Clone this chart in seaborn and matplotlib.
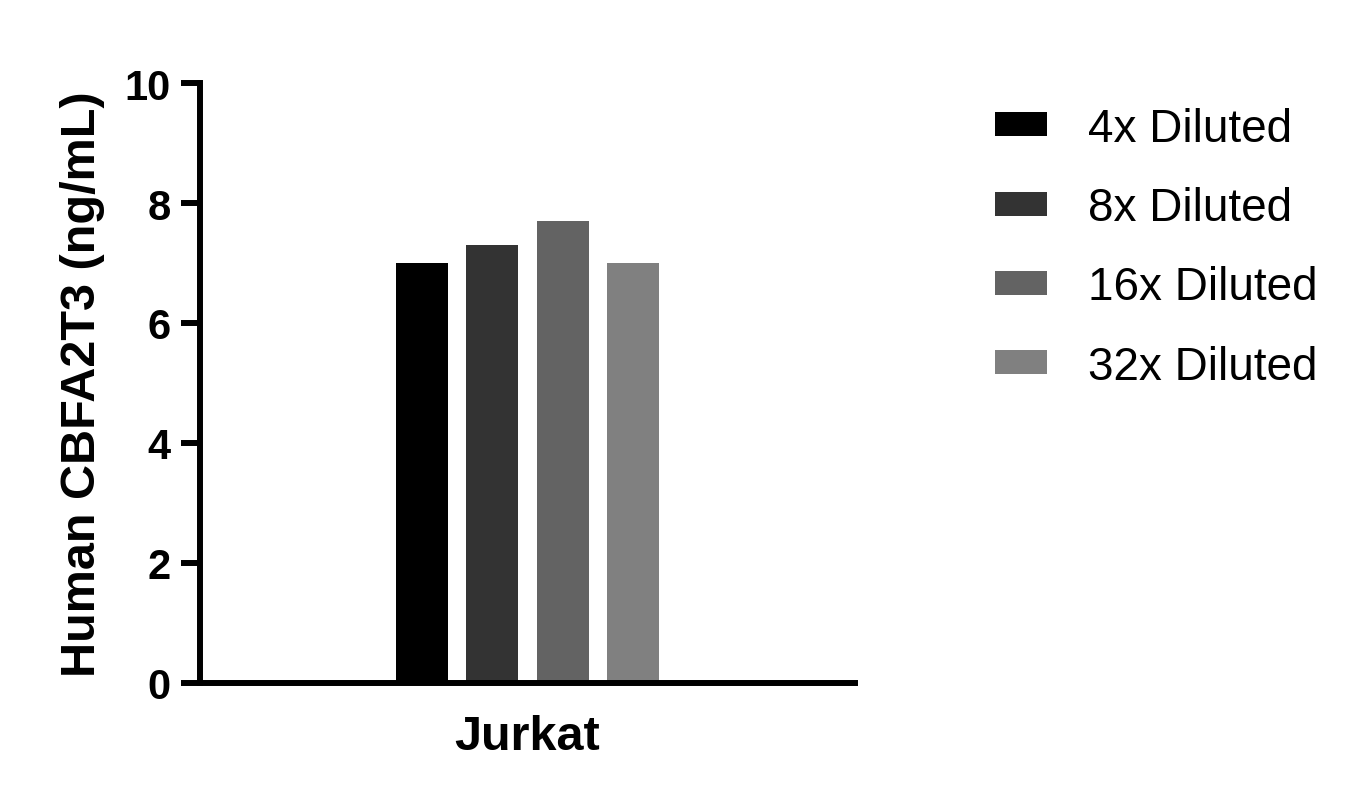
import matplotlib
matplotlib.use('Agg')
import matplotlib.pyplot as plt
import seaborn as sns
import pandas as pd

# data
samples = ["Jurkat", "Jurkat", "Jurkat", "Jurkat"]
dilutions = ["4x Diluted", "8x Diluted", "16x Diluted", "32x Diluted"]
values = [7.0, 7.3, 7.7, 7.0]
bar_colors = ["#000000", "#333333", "#636363", "#808080"]
y_ticks = [0, 2, 4, 6, 8, 10]

df = pd.DataFrame({"sample": samples, "dilution": dilutions, "conc": values})

sns.set_style("ticks")
plt.rcParams['font.family'] = ['Liberation Sans', 'DejaVu Sans']
plt.rcParams['text.color'] = 'black'
plt.rcParams['axes.labelcolor'] = 'black'
plt.rcParams['xtick.color'] = 'black'
plt.rcParams['ytick.color'] = 'black'

fig = plt.figure(figsize=(13.71, 8.04), dpi=100)
ax = fig.add_axes([0.1458, 0.1493, 0.6235 - 0.1458, 0.8955 - 0.1493])

sns.barplot(data=df, x="sample", y="conc", hue="dilution", hue_order=dilutions,
            palette=bar_colors, width=0.43, gap=0.26, saturation=1,
            edgecolor="none", linewidth=0, ax=ax)

handles, labels = ax.get_legend_handles_labels()
if ax.get_legend() is not None:
    ax.get_legend().remove()

ax.set_xlim(-0.5, 0.5)
ax.set_ylim(0, 10)
ax.set_yticks(y_ticks)
ax.set_xlabel("")
ax.set_ylabel("Human CBFA2T3 (ng/mL)", fontsize=35, fontweight='bold', labelpad=14)

sns.despine(ax=ax)
for side in ['left', 'bottom']:
    ax.spines[side].set_linewidth(4.3)
    ax.spines[side].set_color('black')
ax.spines['left'].set_capstyle('projecting')
ax.tick_params(axis='y', length=14, width=4.3, pad=7, labelsize=30,
               color='black', labelcolor='black')
ax.tick_params(axis='x', length=0, pad=22, labelsize=35, labelcolor='black')
for lab in ax.get_yticklabels() + ax.get_xticklabels():
    lab.set_fontweight('bold')

fig.legend(handles, labels, loc='upper left', bbox_to_anchor=(995 / 1371, 0.866),
           frameon=False, fontsize=33, handlelength=1.13, handleheight=0.43,
           handletextpad=0.9, labelspacing=0.77, borderpad=0, borderaxespad=0,
           labelcolor='black')

fig.savefig("out.png", dpi=100)
